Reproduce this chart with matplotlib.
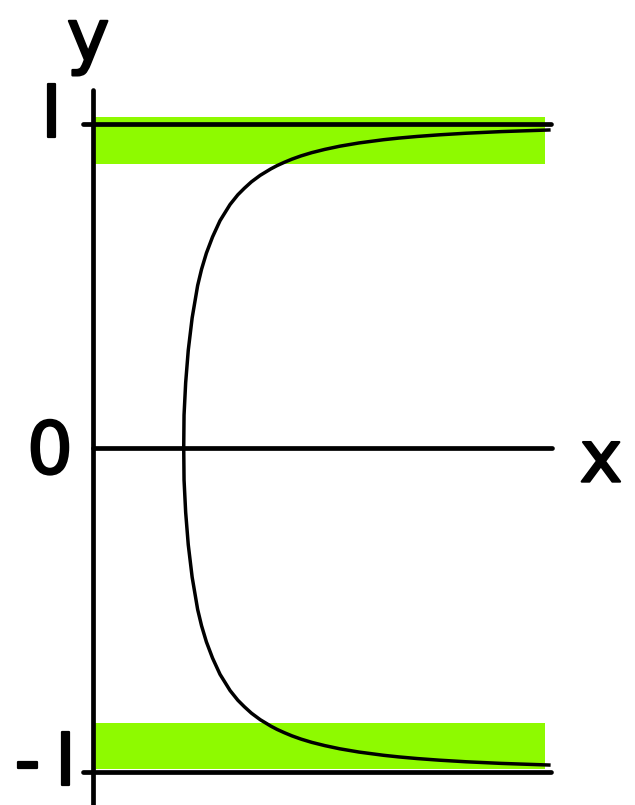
import matplotlib
matplotlib.use("Agg")
import matplotlib.pyplot as plt
import matplotlib.patheffects as pe

# curve (upper half, y >= 0); lower half is the mirror image
half_y = [0.0, 0.1, 0.2, 0.3, 0.4, 0.5, 0.55, 0.6, 0.65, 0.7, 0.75, 0.78, 0.8,
          0.82, 0.84, 0.86, 0.87, 0.88, 0.89, 0.9, 0.91, 0.92, 0.93, 0.94,
          0.95, 0.955, 0.96, 0.965, 0.97, 0.975, 0.98]
half_x = [0.280, 0.281, 0.286, 0.294, 0.306, 0.323, 0.335, 0.350, 0.369, 0.392,
          0.423, 0.447, 0.467, 0.489, 0.516, 0.549, 0.568, 0.590, 0.614, 0.642,
          0.675, 0.715, 0.762, 0.821, 0.897, 0.944, 1.000, 1.068, 1.152, 1.260,
          1.407]

curve_y = [-v for v in half_y[::-1]] + half_y[1:]
curve_x = half_x[::-1] + half_x[1:]

# green bands: (bottom, top) in y, and x extent
band_top = (0.875, 1.02)
band_bottom = (-0.992, -0.85)
band_x = [0.006, 1.395]

# reference lines
level_values = [1, 0, -1]
level_start = [-0.031, 0.0, -0.031]
level_end = [1.414, 1.417, 1.414]

fig = plt.figure(figsize=(6.35, 8.05), dpi=100)
ax = fig.add_axes([0, 0, 1, 1])
ax.set_xlim(-93 / 324, 542 / 324)
ax.set_ylim(-357.5 / 324, 447.5 / 324)
ax.axis("off")

lime = "#8efa00"
for lo, hi in [band_top, band_bottom]:
    ax.fill_between(band_x, [lo, lo], [hi, hi], color=lime, linewidth=0, zorder=1)

# y axis
ax.plot([0, 0], [1.103, -1.2], color="black", lw=3.4, solid_capstyle="round", zorder=3)
for v, s, e in zip(level_values, level_start, level_end):
    ax.plot([s, e], [v, v], color="black", lw=3.4, solid_capstyle="round", zorder=3)

ax.plot(curve_x, curve_y, color="black", lw=2.5, zorder=4)

# slightly heavier glyphs than DejaVu regular
thick = [pe.withStroke(linewidth=1.6, foreground="black")]
font = dict(family="DejaVu Sans", fontsize=52, color="black",
            ha="center", va="center", path_effects=thick)
ax.text(-0.015, 1.255, "y", **font)
ax.text(-0.127, 1.02, "I", **font)
ax.text(-0.133, -0.02, "0", **font)
ax.text(1.568, -0.045, "x", **font)
ax.text(-0.148, -0.98, "-\u2009I", **font)

fig.savefig("out.png", dpi=100)
